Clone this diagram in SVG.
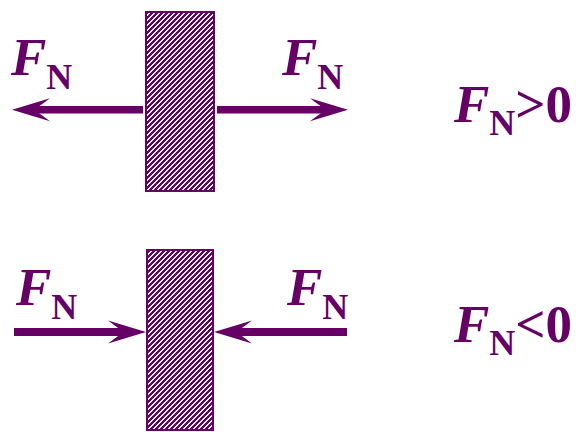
<svg xmlns="http://www.w3.org/2000/svg" xmlns:xlink="http://www.w3.org/1999/xlink" width="576" height="432" viewBox="0 0 576 432">
<style>
.lbl{font-family:"Liberation Serif","Times New Roman",serif;fill:#660066;font-weight:bold;font-size:53px}
.it{font-style:italic}
.sub{font-size:36px}
.box{fill:url(#hatch);stroke:#660066;stroke-width:2}
.shaft{fill:#660066}
</style>
<defs>
<pattern id="hatch" patternUnits="userSpaceOnUse" width="5" height="5">
<rect width="5" height="5" fill="#ffffff"/>
<path d="M-1,6 L6,-1 M-2,2 L2,-2 M3,7 L7,3" stroke="#660066" stroke-width="1.5" shape-rendering="crispEdges"/>
</pattern>
<path id="head" d="M0,0 L-38,-11.5 Q-28,-4 -22,0 Q-28,4 -38,11.5 Z" fill="#660066"/>
</defs>
<rect width="576" height="432" fill="#ffffff"/>
<g id="box-tension">
<rect class="box" x="146" y="12" width="68" height="179"/>
</g>
<g id="box-compression">
<rect class="box" x="147" y="250" width="66" height="180"/>
</g>
<g id="connectors">
<rect class="shaft" x="30" y="106" width="113" height="7.5"/>
<use xlink:href="#head" transform="translate(12,109.7) rotate(180)"/>
<rect class="shaft" x="217" y="106" width="115" height="7.5"/>
<use xlink:href="#head" transform="translate(348,109.7)"/>
<rect class="shaft" x="14" y="328" width="115" height="8"/>
<use xlink:href="#head" transform="translate(146,332)"/>
<rect class="shaft" x="232" y="328" width="115" height="8"/>
<use xlink:href="#head" transform="translate(214,332) rotate(180)"/>
</g>
<g id="label-top-left">
<text class="lbl" x="11" y="75"><tspan class="it">F</tspan><tspan class="sub" dy="14">N</tspan></text>
</g>
<g id="label-top-right">
<text class="lbl" x="282" y="75"><tspan class="it">F</tspan><tspan class="sub" dy="14">N</tspan></text>
</g>
<g id="label-bottom-left">
<text class="lbl" x="16" y="305"><tspan class="it">F</tspan><tspan class="sub" dy="14">N</tspan></text>
</g>
<g id="label-bottom-right">
<text class="lbl" x="287" y="305"><tspan class="it">F</tspan><tspan class="sub" dy="14">N</tspan></text>
</g>
<g id="label-tension">
<text class="lbl" x="454" y="122"><tspan class="it">F</tspan><tspan class="sub" dy="13">N</tspan><tspan dy="-13">&gt;0</tspan></text>
</g>
<g id="label-compression">
<text class="lbl" x="454" y="342"><tspan class="it">F</tspan><tspan class="sub" dy="13">N</tspan><tspan dy="-13">&lt;0</tspan></text>
</g>
</svg>
